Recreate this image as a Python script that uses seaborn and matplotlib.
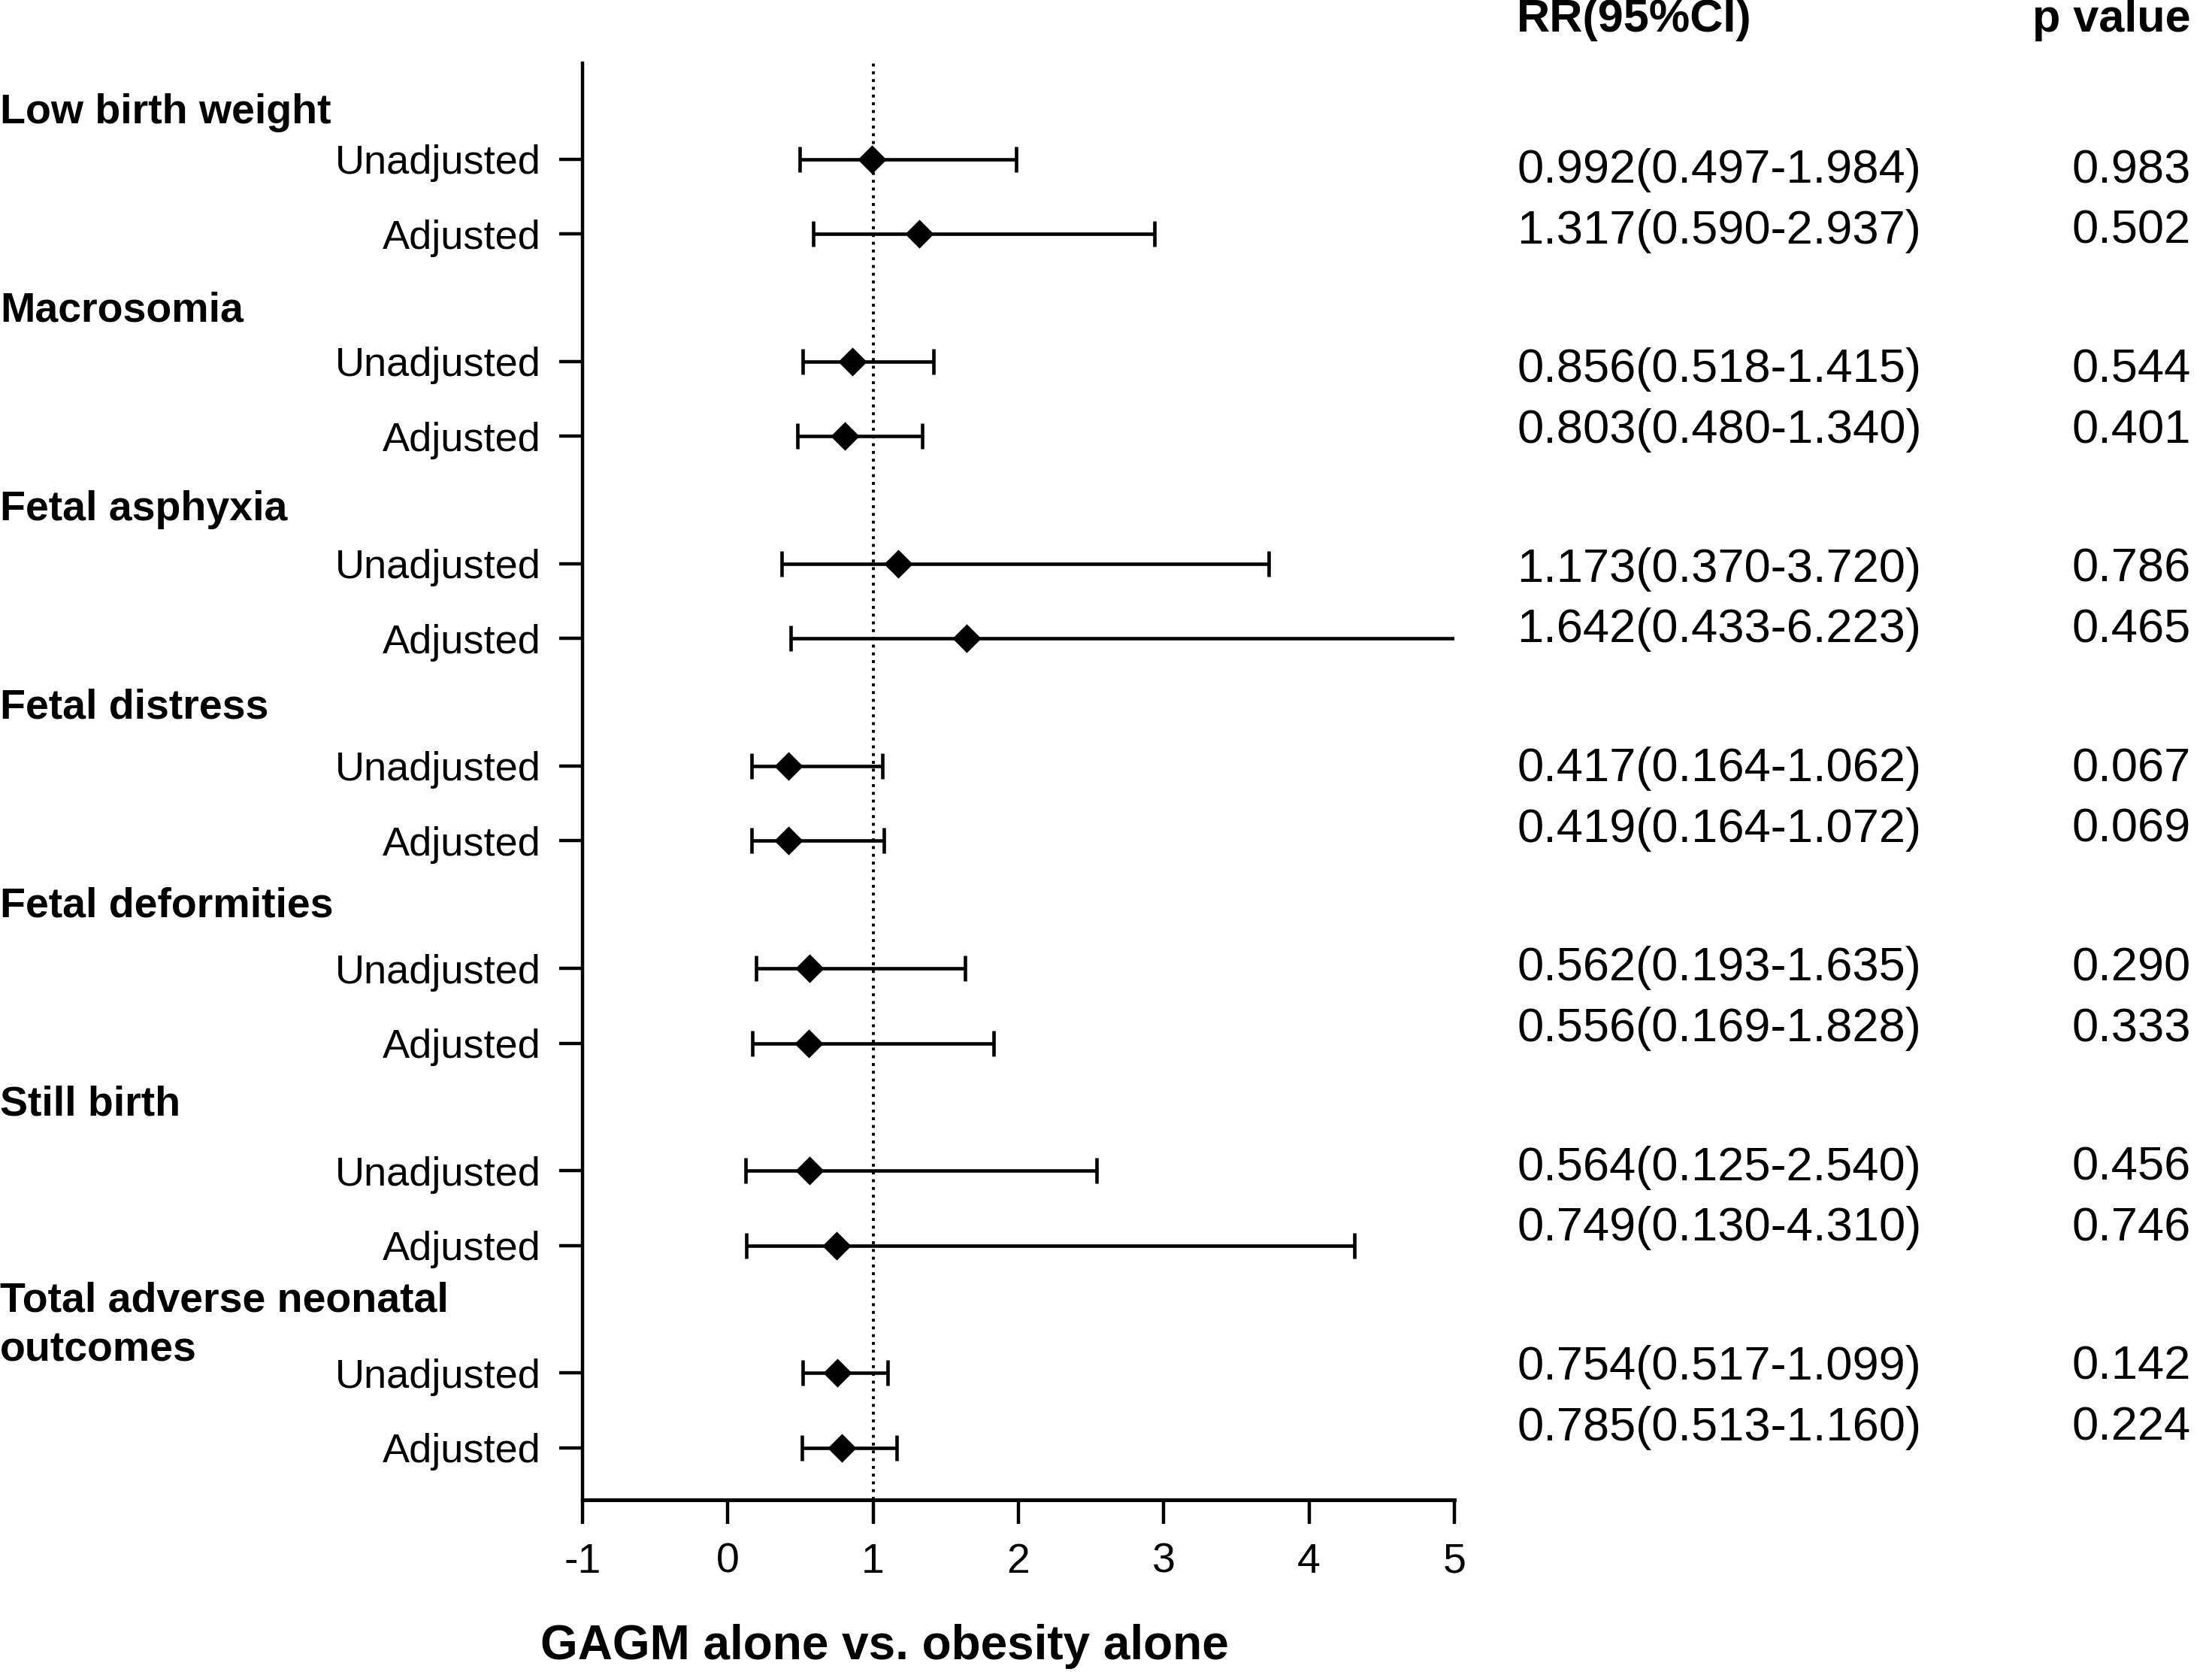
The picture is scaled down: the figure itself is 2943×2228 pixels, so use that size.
import matplotlib
matplotlib.use("Agg")
import matplotlib.pyplot as plt
import matplotlib.transforms as mtransforms
import seaborn as sns
import numpy as np
import pandas as pd

# outcome groups, each with an unadjusted and an adjusted estimate
outcomes = ["Low birth weight", "Macrosomia", "Fetal asphyxia", "Fetal distress",
            "Fetal deformities", "Still birth", "Total adverse neonatal\noutcomes"]
models = ["Unadjusted", "Adjusted"]

rr = [0.992, 1.317, 0.856, 0.803, 1.173, 1.642, 0.417, 0.419,
      0.562, 0.556, 0.564, 0.749, 0.754, 0.785]
ci_low = [0.497, 0.590, 0.518, 0.480, 0.370, 0.433, 0.164, 0.164,
          0.193, 0.169, 0.125, 0.130, 0.517, 0.513]
ci_high = [1.984, 2.937, 1.415, 1.340, 3.720, 6.223, 1.062, 1.072,
           1.635, 1.828, 2.540, 4.310, 1.099, 1.160]
p_values = ["0.983", "0.502", "0.544", "0.401", "0.786", "0.465", "0.067", "0.069",
            "0.290", "0.333", "0.456", "0.746", "0.142", "0.224"]
x_ticks = [-1, 0, 1, 2, 3, 4, 5]

# layout of rows (data units on the y axis)
group_step = 2.704
pos = []
for g in range(len(outcomes)):
    pos += [g * group_step, g * group_step + 1]

df = pd.DataFrame({
    "outcome": np.repeat(outcomes, 2),
    "model": models * len(outcomes),
    "rr": rr, "lo": ci_low, "hi": ci_high, "p": p_values, "y": pos,
})

sns.set_style("ticks")
plt.rcParams["font.family"] = ["Liberation Sans", "DejaVu Sans"]
plt.rcParams.update({"text.color": "black", "axes.labelcolor": "black",
                     "xtick.color": "black", "ytick.color": "black",
                     "axes.edgecolor": "black"})

fig = plt.figure(figsize=(29.43, 22.28), dpi=100)
ax = fig.add_axes([0.2633, 0.1046, 0.3942, 0.8577])

ax.axvline(1, color="black", ls=":", lw=2.8, zorder=1)
ax.errorbar(df["rr"], df["y"],
            xerr=[df["rr"] - df["lo"], df["hi"] - df["rr"]],
            fmt="none", ecolor="black", elinewidth=3.3, capsize=12.5, capthick=3.3, zorder=2)
sns.scatterplot(data=df, x="rr", y="y", marker="D", s=380, color="black",
                edgecolor="black", linewidth=0, zorder=3, ax=ax, legend=False)

ax.set_xlim(-1, 5)
ax.set_ylim(17.92, -1.283)
ax.set_xticks(x_ticks)
ax.set_xticklabels([str(t) for t in x_ticks], fontsize=40)
ax.set_yticks(df["y"])
ax.set_yticklabels(df["model"], fontsize=39)
ax.set_xlabel("")
ax.set_ylabel("")
ax.tick_params(axis="y", length=22, width=3.2, pad=18)
ax.tick_params(axis="x", length=23, width=3.2, pad=18)
for side in ["top", "right"]:
    ax.spines[side].set_visible(False)
ax.spines["left"].set_linewidth(3.2)
ax.spines["bottom"].set_linewidth(3.6)

# group headers at the left edge of the figure
trans = mtransforms.blended_transform_factory(fig.transFigure, ax.transData)
for g, name in enumerate(outcomes):
    yh = -0.62 + g * 2.651
    if "\n" in name:
        ax.text(0.0, yh - 0.28, name, transform=trans, ha="left", va="top",
                fontsize=40, fontweight="bold", linespacing=1.35)
    else:
        ax.text(0.0, yh, name, transform=trans, ha="left", va="center",
                fontsize=40, fontweight="bold")

# RR (95%CI) and p value columns
for i, row in df.iterrows():
    g, k = divmod(i, 2)
    yt = g * 2.666 + 0.15 + k * 0.811
    label = f"{row.rr:.3f}({row.lo:.3f}-{row.hi:.3f})"
    ax.text(0.6857, yt, label, transform=trans, ha="left", va="center", fontsize=45.5)
    ax.text(0.9905, yt, row.p, transform=trans, ha="right", va="center", fontsize=45.5)

fig.text(0.6857, 0.988, "RR(95%CI)", ha="left", va="center", fontsize=44, fontweight="bold")
fig.text(0.9905, 0.988, "p value", ha="right", va="center", fontsize=44, fontweight="bold")
fig.text(0.40, 0.017, "GAGM alone vs. obesity alone", ha="center", va="center",
         fontsize=46, fontweight="bold")

fig.savefig("out.png", dpi=100, facecolor="white")
